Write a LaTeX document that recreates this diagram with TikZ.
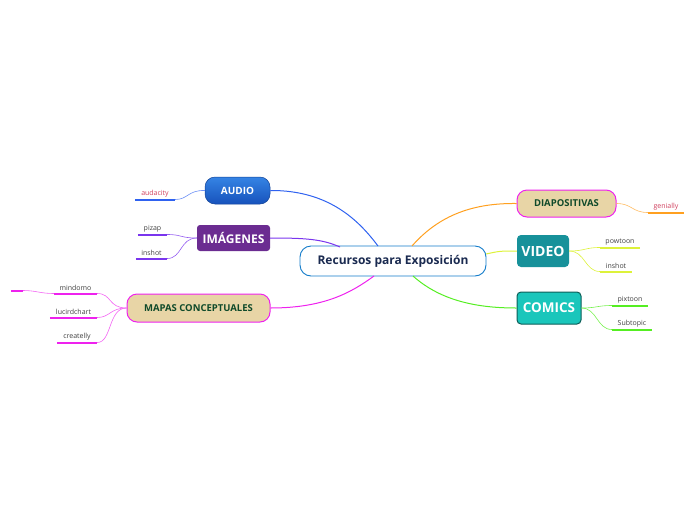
\documentclass[tikz,border=0pt]{standalone}
\usepackage{fontspec}
\setmainfont{Open Sans}
\usetikzlibrary{positioning}
\definecolor{navy}{HTML}{1A2A50}
\definecolor{dkgreen}{HTML}{0F4A2A}
\definecolor{wheat}{HTML}{E8D5A6}
\definecolor{leafred}{HTML}{D0405E}
\definecolor{cAudio}{HTML}{2F62F0}
\definecolor{cImg}{HTML}{7A35EE}
\definecolor{cMap}{HTML}{EE22EE}
\definecolor{cDia}{HTML}{FFA020}
\definecolor{cVid}{HTML}{DDF23A}
\definecolor{cCom}{HTML}{55EE22}
\definecolor{audTop}{HTML}{3584E4}
\definecolor{audBot}{HTML}{1752BC}
\definecolor{imgFill}{HTML}{6B2C91}
\definecolor{vidFill}{HTML}{17919A}
\definecolor{comFill}{HTML}{1AC6BB}
\definecolor{comLine}{HTML}{0D5E58}

\begin{document}
\begin{tikzpicture}[x=1pt, y=-1pt,
  root/.style={draw=cyan!60!blue, line width=0.9pt, fill=white, rounded corners=11pt, minimum width=186pt, minimum height=30pt, text=navy, font=\fontsize{12}{14}\selectfont\bfseries},
  topic/.style={rounded corners=10pt, minimum height=27pt, align=center, font=\fontsize{9.5}{11}\selectfont\bfseries},
  beige/.style={topic, draw=cMap, line width=1pt, fill=wheat, text=dkgreen},
  leaf/.style={anchor=south, inner ysep=2.5pt, inner xsep=0pt, text=black!75, font=\fontsize{7}{8}\selectfont},
  under/.style={line width=2pt},
  link/.style={line width=1pt},
  twig/.style={line width=0.6pt}]
\useasboundingbox (0,0) rectangle (696,520);

% centre and main topics
\node[root] (rec) at (393,261) {Recursos para Exposición};
\node[topic, draw=audBot!80!black, line width=0.5pt, top color=audTop, bottom color=audBot, text=white, minimum width=65pt, font=\fontsize{10}{12}\selectfont\bfseries] (audio) at (237.5,190.5) {AUDIO};
\node[topic, fill=imgFill, text=white, rounded corners=3pt, minimum width=73pt, minimum height=26pt, font=\fontsize{12}{14}\selectfont\bfseries] (img) at (233.5,238) {IMÁGENES};
\node[beige, minimum width=143pt, minimum height=28pt] (mapas) at (198.5,308) {MAPAS CONCEPTUALES};
\node[beige, minimum width=99pt] (diapo) at (566.5,203.5) {DIAPOSITIVAS};
\node[topic, fill=vidFill, text=white, rounded corners=4pt, minimum width=52pt, minimum height=32pt, font=\fontsize{14}{16}\selectfont\bfseries] (video) at (543,251) {VIDEO};
\node[topic, draw=comLine, line width=1pt, fill=comFill, text=white, rounded corners=4pt, minimum width=64pt, minimum height=32pt, font=\fontsize{13.5}{16}\selectfont\bfseries] (comics) at (549,308) {COMICS};

\coordinate (rA) at (378,246);
\coordinate (rI) at (340,247);
\coordinate (rM) at (374,276);
\coordinate (rD) at (412,246);
\coordinate (rV) at (486,254);
\coordinate (rC) at (413,276);

\draw[link, cAudio] (audio.east) .. controls (330,190) and (360,222) .. (rA);
\draw[link, cImg] (img.east) .. controls (305,238) and (322,239) .. (rI);
\draw[link, cMap] (mapas.east) .. controls (325,308) and (352,292) .. (rM);
\draw[link, cDia] (rD) .. controls (440,214) and (475,203) .. (diapo.west);
\draw[link, cVid] (rV) .. controls (500,251) .. (video.west);
\draw[link, cCom] (rC) .. controls (442,302) and (480,308) .. (comics.west);

% leaves
\node[leaf, text=leafred, minimum width=40pt] (aud) at (155,199.5) {audacity};
\node[leaf, minimum width=29pt] (piz) at (152.5,234.5) {pizap};
\node[leaf, minimum width=31pt] (ins1) at (151.5,258.5) {inshot};
\node[leaf, minimum width=43pt] (mind) at (75.5,293.5) {mindomo};
\node[leaf, minimum width=12pt] (stub) at (17,290.5) {};
\node[leaf, minimum width=47pt] (luc) at (73.5,317.5) {lucirdchart};
\node[leaf, minimum width=40pt] (crea) at (77,342.5) {createlly};
\node[leaf, text=leafred, minimum width=36pt] (gen) at (666,212.5) {genially};
\node[leaf, minimum width=40pt] (pow) at (620,247.5) {powtoon};
\node[leaf, minimum width=32pt] (ins2) at (616,271.5) {inshot};
\node[leaf, minimum width=36pt] (pix) at (630,305.5) {pixtoon};
\node[leaf, minimum width=40pt] (sub) at (632,329.5) {Subtopic};

\foreach \n/\c in {aud/cAudio, piz/cImg, ins1/cImg, mind/cMap, stub/cMap, luc/cMap, crea/cMap, gen/cDia, pow/cVid, ins2/cVid, pix/cCom, sub/cCom}
  \draw[under, \c] (\n.south west) -- (\n.south east);

\draw[twig, cAudio!70] (audio.west) .. controls (188,190) and (188,199.5) .. (aud.south east);
\draw[twig, cImg!80] (img.west) .. controls (180,238) and (182,234.5) .. (piz.south east);
\draw[twig, cImg!80] (img.west) .. controls (180,238) and (182,258.5) .. (ins1.south east);
\draw[twig, cMap!70] (mapas.west) .. controls (108,308) and (112,293.5) .. (mind.south east);
\draw[twig, cMap!70] (mapas.west) .. controls (110,308) and (110,317.5) .. (luc.south east);
\draw[twig, cMap!70] (mapas.west) .. controls (108,308) and (112,342.5) .. (crea.south east);
\draw[twig, cMap!70] (mind.south west) .. controls (40,293.5) and (36,290.5) .. (stub.south east);
\draw[twig, cDia!70] (diapo.east) .. controls (632,203.5) and (632,212.5) .. (gen.south west);
\draw[twig, cVid] (video.east) .. controls (585,251) and (585,247.5) .. (pow.south west);
\draw[twig, cVid] (video.east) .. controls (585,251) and (585,271.5) .. (ins2.south west);
\draw[twig, cCom!80] (comics.east) .. controls (597,308) and (597,305.5) .. (pix.south west);
\draw[twig, cCom!80] (comics.east) .. controls (597,308) and (597,329.5) .. (sub.south west);
\end{tikzpicture}
\end{document}
